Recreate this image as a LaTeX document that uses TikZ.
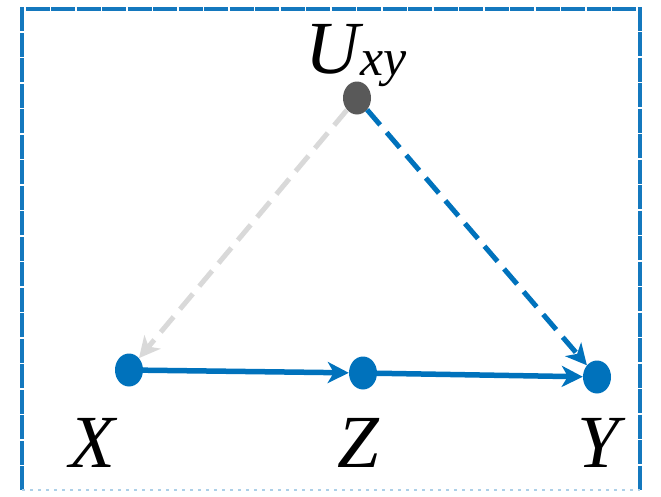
\documentclass[tikz,border=0pt]{standalone}
\usepackage{fontspec}
\setmainfont{Liberation Serif}
\usetikzlibrary{arrows.meta,shapes.geometric}
\definecolor{cblue}{RGB}{0,114,188}
\definecolor{cgray}{RGB}{89,89,89}
\definecolor{clight}{RGB}{217,217,217}
\definecolor{cframe}{RGB}{20,120,190}
\tikzset{
  dot/.style={ellipse, minimum width=28pt, minimum height=33pt, inner sep=0pt, fill=cblue, draw=none},
  udot/.style={dot, fill=cgray},
  lab/.style={font=\fontsize{75}{80}\selectfont\itshape, inner sep=0pt},
  tip/.style={-{Stealth[length=21pt,width=21pt,inset=6pt]}},
  solidarr/.style={tip, draw=cblue, line width=5.5pt},
  dasharr/.style={tip, line width=5pt, dash pattern=on 20pt off 10pt},
}
\begin{document}
\begin{tikzpicture}[x=1pt,y=-1pt]
\useasboundingbox (0,0) rectangle (661,496);
% frame
\draw[cframe, line width=3.5pt, dash pattern=on 24pt off 1.5pt] (22,490) -- (22,9) -- (640,9) -- (640,490);
\draw[cframe!35, line width=2pt, dash pattern=on 3pt off 5pt] (22,490) -- (640,490);
% nodes
\node[udot] (U) at (357,98) {};
\node[dot] (X) at (129,370) {};
\node[dot] (Z) at (363,373) {};
\node[dot] (Y) at (597,377) {};
% labels
\node[lab, anchor=base] (ul) at (356,73) {U\kern1pt{\fontsize{52}{52}\selectfont\raisebox{-2pt}{xy}}};
\node[lab, anchor=base] (xl) at (92,467) {X};
\node[lab, anchor=base] (zl) at (358,467) {Z};
\node[lab, anchor=base] (yl) at (598,467) {Y};
% edges
\draw[dasharr, draw=clight] (U) -- (X);
\draw[dasharr, draw=cblue] (U) -- (Y);
\draw[solidarr] (X) -- (Z);
\draw[solidarr] (Z) -- (Y);
\end{tikzpicture}
\end{document}
